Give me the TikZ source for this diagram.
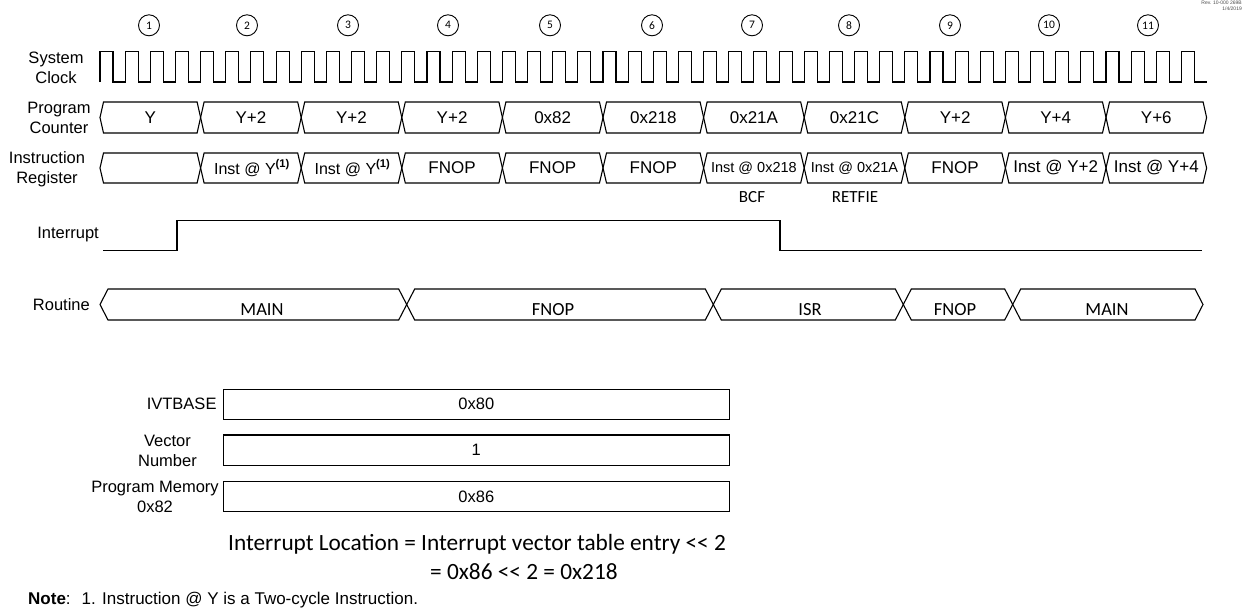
\documentclass[tikz,border=0pt]{standalone}
\usepackage{fontspec}
\setmainfont{Liberation Sans}
\newfontfamily\calfont{Carlito}
\begin{document}
\begin{tikzpicture}[x=1pt,y=-1pt,
  sig/.style={line width=1.1pt,line join=miter},
  lbl/.style={font=\fontsize{16.5}{20}\selectfont,align=center,inner sep=0pt},
  val/.style={font=\fontsize{17}{20}\selectfont,inner sep=0pt},
  smallval/.style={font=\fontsize{14.5}{17}\selectfont,inner sep=0pt},
  cal/.style={font=\calfont\fontsize{18.5}{22}\selectfont,inner sep=0pt},
  cyc/.style={circle,draw,line width=0.9pt,minimum size=21pt,inner sep=0pt,font=\calfont\fontsize{11.5}{11.5}\selectfont},
  membox/.style={draw,line width=1.1pt,minimum width=506pt,minimum height=30pt,inner sep=0pt,font=\fontsize{16.5}{20}\selectfont}]
\useasboundingbox (0,0) rectangle (1245,611);

% revision stamp
\node[anchor=north east,align=right,inner sep=0pt,font=\fontsize{5}{6}\selectfont,text=black!70] (rev) at (1242,1) {Rev. 10-000 269B\\1/4/2019};

% cycle numbers
\foreach \i/\x in {1/149,2/247,3/348,4/448,5/550,6/652,7/752,8/849,9/950,10/1049,11/1148}
  \node[cyc] (c\i) at (\x,25.3) {\i};

% labels
\node[lbl] (lclk) at (56,67.5) {System\\Clock};
\node[lbl] (lpc) at (59,117.8) {Program\\Counter};
\node[lbl] (lir) at (47,169.5) {Instruction\\Register};
\node[lbl,anchor=east] (lint) at (99,235) {Interrupt};
\node[lbl,anchor=east] (lrt) at (90,305) {Routine};

% system clock
\draw[sig] (100,82) \foreach \k in {0,...,43} {
  -- ({100+25.15*\k},51.7) -- ({113+25.15*\k},51.7) -- ({113+25.15*\k},82) -- ({125.15+25.15*\k},82) };

% program counter and instruction register buses
\foreach \i in {0,...,10} {
  \pgfmathsetmacro\xa{100+100.6*\i}
  \pgfmathsetmacro\xb{100+100.6*(\i+1)}
  \draw[sig] (\xa,117.5) -- ({\xa+3.5},102) -- ({\xb-3.5},102) -- (\xb,117.5) -- ({\xb-3.5},133) -- ({\xa+3.5},133) -- cycle;
  \draw[sig] (\xa,168) -- ({\xa+3.5},153) -- ({\xb-3.5},153) -- (\xb,168) -- ({\xb-3.5},183) -- ({\xa+3.5},183) -- cycle;
}
\foreach \v [count=\i] in {Y,Y+2,Y+2,Y+2,0x82,0x218,0x21A,0x21C,Y+2,Y+4,Y+6}
  \node[val] (pc\i) at ({100+100.6*(\i-0.5)},117.5) {\v};

\node[val,font=\fontsize{16}{19}\selectfont] (ir2) at (252,168) {Inst @ Y\textsuperscript{\textbf{(1)}}};
\node[val,font=\fontsize{16}{19}\selectfont] (ir3) at (352.5,168) {Inst @ Y\textsuperscript{\textbf{(1)}}};
\node[val] (ir4) at (452.1,168) {FNOP};
\node[val] (ir5) at (552.7,168) {FNOP};
\node[val] (ir6) at (653.3,168) {FNOP};
\node[smallval] (ir7) at (753.9,168) {Inst @ 0x218};
\node[smallval] (ir8) at (854.5,168) {Inst @ 0x21A};
\node[val] (ir9) at (955.1,168) {FNOP};
\node[val] (ir10) at (1055.7,168) {Inst @ Y+2};
\node[val] (ir11) at (1156.3,168) {Inst @ Y+4};

\node[cal,font=\calfont\fontsize{17}{20}\selectfont] (bcf) at (752,197) {BCF};
\node[cal,font=\calfont\fontsize{17}{20}\selectfont] (retfie) at (855,197) {RETFIE};

% interrupt
\draw[sig] (103,250.7) -- (177,250.7) -- (177,220.7) -- (780,220.7) -- (780,250.7) -- (1202,250.7);

% routine bus
\foreach \xa/\xb in {100/406.7,406.7/713.3,713.3/903.3,903.3/1012.7,1012.7/1203}
  \draw[sig] (\xa,304.5) -- ({\xa+8},289) -- ({\xb-8},289) -- (\xb,304.5) -- ({\xb-8},320) -- ({\xa+8},320) -- cycle;
\node[cal] (r1) at (262,310) {MAIN};
\node[cal] (r2) at (553,310) {FNOP};
\node[cal] (r3) at (810,310) {ISR};
\node[cal] (r4) at (955,310) {FNOP};
\node[cal] (r5) at (1107,310) {MAIN};

% memory boxes
\node[membox] (ivt) at (476.3,404.3) {0x80};
\node[membox,minimum height=30.7pt] (vec) at (476.3,450.3) {1};
\node[membox] (pm) at (476.3,496.7) {0x86};
\node[lbl,anchor=east] (livt) at (216.7,404.3) {IVTBASE};
\node[lbl] (lvec) at (167.5,451) {Vector\\Number};
\node[lbl] (lpm) at (155,496.7) {Program Memory\\0x82};

% formula
\node[anchor=west,inner sep=0pt,font=\calfont\fontsize{23.3}{26}\selectfont] (f1) at (228,544) {Interrupt Location = Interrupt vector table entry << 2};
\node[anchor=west,inner sep=0pt,font=\calfont\fontsize{23.3}{26}\selectfont] (f2) at (430,571.5) {= 0x86 << 2 = 0x218};

% note
\node[anchor=west,inner sep=0pt,font=\fontsize{17}{20}\selectfont] (note) at (28,600) {\textbf{Note}: \ 1. Instruction @ Y is a Two-cycle Instruction.};
\end{tikzpicture}
\end{document}
